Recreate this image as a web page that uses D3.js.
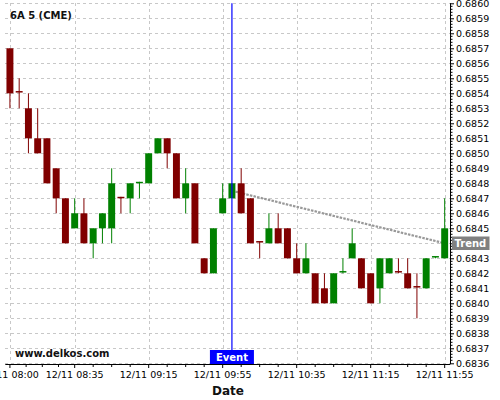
<!DOCTYPE html>
<html><head><meta charset="utf-8">
<script src="https://cdn.jsdelivr.net/npm/d3@7"></script>
<style>body{margin:0;background:#fff}svg{display:block}text{font-family:"DejaVu Sans",sans-serif}</style>
</head><body><svg id="c" width="500" height="400"></svg>
<script>
const times = ["12/11 08:00","12/11 08:05","12/11 08:10","12/11 08:15","12/11 08:20","12/11 08:25","12/11 08:30","12/11 08:35",
"12/11 08:40","12/11 08:45","12/11 08:50","12/11 08:55","12/11 09:00","12/11 09:05","12/11 09:10","12/11 09:15",
"12/11 09:20","12/11 09:25","12/11 09:30","12/11 09:35","12/11 09:40","12/11 09:45","12/11 09:50","12/11 09:55",
"12/11 10:00","12/11 10:05","12/11 10:10","12/11 10:15","12/11 10:20","12/11 10:25","12/11 10:30","12/11 10:35",
"12/11 10:40","12/11 10:45","12/11 10:50","12/11 10:55","12/11 11:00","12/11 11:05","12/11 11:10","12/11 11:15",
"12/11 11:20","12/11 11:25","12/11 11:30","12/11 11:35","12/11 11:40","12/11 11:45","12/11 11:50","12/11 11:55"];
const open  = [0.6857,0.68541,0.6853,0.6851,0.6851,0.6849,0.6847,0.6845,0.6846,0.6844,0.6845,0.6845,0.68471,0.6847,0.6848,0.6848,
0.6850,0.6851,0.6850,0.6847,0.6848,0.6843,0.6842,0.6846,0.6847,0.6848,0.6847,0.68441,0.6844,0.6845,0.6845,0.6843,
0.6842,0.6842,0.6841,0.6840,0.6842,0.6843,0.6843,0.6842,0.6841,0.6842,0.68421,0.6842,0.68411,0.6841,0.6843,0.6843];
const high  = [0.6857,0.6855,0.6854,0.6853,0.6851,0.6849,0.6847,0.6847,0.6847,0.6845,0.6846,0.6849,0.68471,0.6848,0.68481,0.6850,
0.6851,0.6851,0.6850,0.6849,0.6848,0.6843,0.6845,0.6848,0.6848,0.6849,0.6847,0.68441,0.6846,0.6846,0.6845,0.6844,
0.6844,0.6842,0.6842,0.6842,0.6843,0.6845,0.6843,0.6842,0.6843,0.6843,0.6843,0.6843,0.6842,0.6843,0.68431,0.6847];
const low   = [0.6853,0.6853,0.6850,0.6850,0.6848,0.6846,0.6844,0.6845,0.6844,0.6843,0.6844,0.6844,0.6846,0.6846,0.6847,0.6848,
0.6850,0.6849,0.6847,0.6846,0.6844,0.6842,0.6842,0.6846,0.6847,0.6846,0.6844,0.6843,0.6844,0.6844,0.6843,0.6842,
0.6842,0.6840,0.6840,0.6840,0.6842,0.6843,0.6841,0.6840,0.6840,0.6842,0.6842,0.6841,0.6839,0.6841,0.6843,0.6843];
const close = [0.6854,0.6854,0.6851,0.6850,0.6848,0.6847,0.6844,0.6846,0.6844,0.6845,0.6846,0.6848,0.6847,0.6848,0.68481,0.6850,
0.6851,0.6850,0.6847,0.6848,0.6844,0.6842,0.6845,0.6847,0.6848,0.6846,0.6844,0.6844,0.6845,0.6844,0.6843,0.6842,
0.6843,0.6840,0.6840,0.6842,0.68421,0.6844,0.6841,0.6840,0.6843,0.6843,0.6842,0.6841,0.6841,0.6843,0.68431,0.6845];
const yTickValues = [0.6836,0.6837,0.6838,0.6839,0.6840,0.6841,0.6842,0.6843,0.6844,0.6845,0.6846,0.6847,0.6848,
0.6849,0.6850,0.6851,0.6852,0.6853,0.6854,0.6855,0.6856,0.6857,0.6858,0.6859,0.6860];
const xTickLabels = ["12/11 08:00","12/11 08:35","12/11 09:15","12/11 09:55","12/11 10:35","12/11 11:15","12/11 11:55"];
const trendTimes = ["12/11 10:00","12/11 11:55"];
const trendValues = [0.68475, 0.6844];
const eventTime = "12/11 10:00";
const titleText = "6A 5 (CME)";
const siteText = "www.delkos.com";

(function () {
const svg = d3.select("#c");
const pL = 5.3, pR = 449.3, pT = 3.3, pB = 363.3, axisX = 450;
const x = d3.scaleBand().domain(times).range([pL, pR]).paddingInner(0.25).paddingOuter(0.125);
const y = d3.scaleLinear().domain([0.6836, 0.6860]).range([pB, pT]);
const cx = t => x(t) + x.bandwidth() / 2;
const up = "#008000", down = "#800000";

// grid
const grid = svg.append("g").attr("stroke", "#c8c8c8").attr("stroke-width", 1).attr("stroke-dasharray", "3,3").attr("shape-rendering","crispEdges");
grid.selectAll(".h").data(yTickValues).join("line").attr("x1", pL).attr("x2", axisX)
  .attr("y1", d => Math.round(y(d)) + 0.5).attr("y2", d => Math.round(y(d)) + 0.5);
grid.selectAll(".v").data(xTickLabels).join("line").attr("y1", pT).attr("y2", pB)
  .attr("x1", d => Math.round(cx(d)) + 0.5).attr("x2", d => Math.round(cx(d)) + 0.5);

// trend
svg.append("line").attr("x1", cx(trendTimes[0])).attr("y1", y(trendValues[0]))
  .attr("x2", cx(trendTimes[1])).attr("y2", y(trendValues[1]))
  .attr("stroke", "#999").attr("stroke-width", 2.2).attr("stroke-dasharray", "2.5,1.2");

// candles
const idx = d3.range(times.length);
const cg = svg.append("g");
cg.selectAll(".w").data(idx).join("line")
  .attr("x1", i => cx(times[i])).attr("x2", i => cx(times[i]))
  .attr("y1", i => y(high[i])).attr("y2", i => y(low[i]))
  .attr("stroke", i => close[i] >= open[i] ? up : down).attr("stroke-width", 1);
cg.selectAll(".b").data(idx).join("rect")
  .attr("x", i => x(times[i])).attr("width", x.bandwidth())
  .attr("y", i => Math.min(y(open[i]), y(close[i])) - (Math.abs(y(open[i]) - y(close[i])) < 1.5 ? 0.75 : 0))
  .attr("height", i => Math.max(1.5, Math.abs(y(open[i]) - y(close[i]))))
  .attr("fill", i => close[i] >= open[i] ? up : down);

// event line
const ex = cx(eventTime);
svg.append("line").attr("x1", ex).attr("x2", ex).attr("y1", pT).attr("y2", pB + 0.7)
  .attr("stroke", "#0000ff").attr("stroke-width", 1.2);

// axes
const xa = svg.append("g").attr("transform", `translate(0,${pB + 0.7})`)
  .call(d3.axisBottom(x).tickValues(xTickLabels).tickSize(4).tickSizeOuter(0).tickPadding(3));
xa.select(".domain").attr("d", `M${pL},0.5H${axisX}`);
xa.selectAll("text").attr("font-size", "9.5px").attr("font-family", "DejaVu Sans");
const minor = [];
for (let k = 0; k < xTickLabels.length - 1; k++) {
  const a = cx(xTickLabels[k]), b = cx(xTickLabels[k + 1]);
  for (let q = 1; q < 4; q++) minor.push(a + (b - a) * q / 4);
}
xa.selectAll(".mn").data(minor).join("line").attr("x1", d => d).attr("x2", d => d)
  .attr("y1", 0).attr("y2", 3).attr("stroke", "#000");

const ya = svg.append("g").attr("transform", `translate(${axisX},0)`)
  .call(d3.axisRight(y).tickValues(yTickValues).tickSize(4).tickSizeOuter(0).tickPadding(2).tickFormat(d3.format(".4f")));
ya.select(".domain").attr("d", `M0.5,${pT}V${pB + 1}`);
ya.selectAll("text").attr("font-size", "9.5px").attr("font-family", "DejaVu Sans");
const yMinor = [];
for (let k = 0; k < yTickValues.length - 1; k++) {
  const a = y(yTickValues[k]), b = y(yTickValues[k + 1]);
  for (let q = 1; q < 5; q++) yMinor.push(a + (b - a) * q / 5);
}
ya.selectAll(".mn").data(yMinor).join("line").attr("x1", 0).attr("x2", 2.5)
  .attr("y1", d => d).attr("y2", d => d).attr("stroke", "#000");

// labels
svg.append("text").attr("x", 10).attr("y", 19).attr("font-size", "10px").attr("font-weight", "bold").attr("fill", "#111").text(titleText);
svg.append("text").attr("x", 15).attr("y", 357.3).attr("font-size", "10px").attr("font-weight", "bold").attr("fill", "#111").text(siteText);
svg.append("text").attr("x", 228).attr("y", 395).attr("text-anchor", "middle").attr("font-size", "12px").attr("font-weight", "bold").attr("fill", "#111").text("Date");

// event label
svg.append("rect").attr("x", ex - 22).attr("y", 350).attr("width", 44).attr("height", 14).attr("fill", "#0000ff");
svg.append("text").attr("x", ex).attr("y", 361).attr("text-anchor", "middle").attr("font-size", "10px").attr("font-weight", "bold").attr("fill", "#fff").text("Event");

// trend label
const ty = y(trendValues[1]);
svg.append("rect").attr("x", 452).attr("y", ty - 6.8).attr("width", 37.5).attr("height", 13.5).attr("fill", "#808080");
svg.append("text").attr("x", 454.5).attr("y", ty + 3.6).attr("font-size", "10px").attr("font-weight", "bold").attr("fill", "#fff").text("Trend");
})();
</script></body></html>
